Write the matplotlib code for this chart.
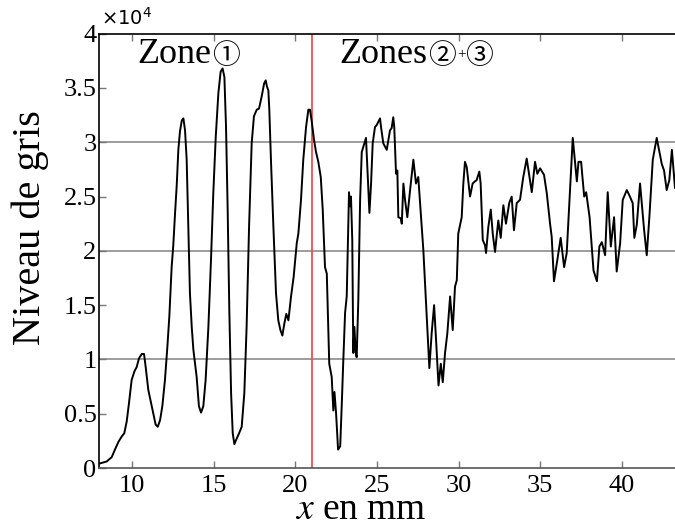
import numpy as np
import matplotlib
matplotlib.use("Agg")
import matplotlib.pyplot as plt
from matplotlib.ticker import FuncFormatter, MultipleLocator

plt.rcParams["font.family"] = ["Liberation Serif", "Noto Sans CJK JP", "DejaVu Sans"]

# position along the sample (mm) and grey level (units of 1e4)
x_mm = [
    7.98, 8.45, 8.76, 8.96, 9.17, 9.37, 9.53, 9.68, 9.82, 9.98, 10.15, 10.29,
    10.43, 10.6, 10.74, 10.84, 11.0, 11.17, 11.31, 11.45, 11.58, 11.72, 11.86,
    12.02, 12.17, 12.29, 12.43, 12.53, 12.64, 12.74, 12.84, 12.94, 13.05, 13.15,
    13.25, 13.35, 13.45, 13.55, 13.66, 13.76, 13.96, 14.1, 14.23, 14.37, 14.51,
    14.68, 14.84, 14.98, 15.13, 15.29, 15.43, 15.55, 15.66, 15.76, 15.86, 15.96,
    16.07, 16.17, 16.27, 16.41, 16.56, 16.72, 16.88, 17.02, 17.17, 17.33, 17.47,
    17.64, 17.78, 17.94, 18.09, 18.19, 18.27, 18.35, 18.41, 18.51, 18.66, 18.82,
    18.96, 19.09, 19.21, 19.33, 19.45, 19.58, 19.74, 19.9, 20.09, 20.19, 20.35,
    20.49, 20.66, 20.8, 20.9, 21.0, 21.15, 21.27, 21.41, 21.56, 21.68, 21.82,
    21.93, 22.08, 22.23, 22.33, 22.4, 22.5, 22.62, 22.75, 22.85, 22.94, 23.05,
    23.15, 23.29, 23.35, 23.41, 23.49, 23.55, 23.62, 23.7, 23.76, 23.86, 23.97,
    24.07, 24.17, 24.33, 24.41, 24.54, 24.64, 24.74, 24.88, 24.99, 25.19, 25.25,
    25.39, 25.6, 25.8, 25.9, 26.0, 26.06, 26.17, 26.25, 26.31, 26.46, 26.52,
    26.62, 26.72, 26.86, 27.03, 27.23, 27.39, 27.53, 27.7, 27.84, 28.05, 28.21,
    28.35, 28.5, 28.62, 28.77, 28.91, 29.03, 29.17, 29.31, 29.48, 29.64, 29.78,
    29.89, 29.98, 30.19, 30.29, 30.39, 30.5, 30.7, 30.86, 31.0, 31.1, 31.27,
    31.35, 31.48, 31.62, 31.68, 31.82, 31.97, 32.09, 32.23, 32.43, 32.58, 32.74,
    32.9, 33.1, 33.25, 33.39, 33.56, 33.76, 33.96, 34.17, 34.48, 34.68, 34.82,
    34.99, 35.23, 35.4, 35.6, 35.7, 35.84, 36.05, 36.25, 36.46, 36.62, 36.79,
    36.99, 37.24, 37.34, 37.5, 37.69, 37.81, 38.02, 38.26, 38.47, 38.62, 38.77,
    38.97, 39.13, 39.32, 39.52, 39.68, 39.89, 40.05, 40.3, 40.46, 40.66, 40.76,
    40.91, 41.11, 41.36, 41.52, 41.68, 41.89, 42.13, 42.44, 42.58, 42.74, 42.9,
    43.06, 43.25,
]
niveau_1e4 = [
    0.04, 0.06, 0.10, 0.17, 0.24, 0.29, 0.32, 0.43, 0.60, 0.81, 0.89, 0.93,
    1.01, 1.05, 1.05, 0.93, 0.72, 0.60, 0.50, 0.40, 0.38, 0.44, 0.57,
    0.81, 1.12, 1.40, 1.85, 2.05, 2.35, 2.60, 2.93, 3.10, 3.20, 3.22,
    3.11, 2.84, 2.22, 1.61, 1.30, 1.09, 0.84, 0.57, 0.51, 0.57, 0.81,
    1.30, 1.92, 2.53, 3.05, 3.45, 3.65, 3.68, 3.60, 3.14, 2.38, 1.46,
    0.69, 0.32, 0.22, 0.27, 0.32, 0.38, 0.69, 1.30, 2.22, 2.99, 3.24,
    3.30, 3.31, 3.42, 3.54, 3.57, 3.51, 3.48, 3.30, 2.84, 2.22, 1.61,
    1.36, 1.27, 1.22, 1.33, 1.42, 1.36, 1.58, 1.76, 2.07, 2.16, 2.47,
    2.84, 3.14, 3.30, 3.30, 3.20, 3.02, 2.91, 2.82, 2.68, 2.38, 1.85,
    1.79, 0.96, 0.84, 0.53, 0.70, 0.50, 0.17, 0.20, 0.60, 0.99, 1.43,
    1.58, 2.54, 2.41, 2.50, 2.10, 1.06, 1.30, 1.06, 1.02, 1.55, 2.47,
    2.91, 2.96, 3.04, 2.77, 2.35, 2.62, 2.99, 3.14, 3.16, 3.22, 3.14,
    2.99, 2.93, 3.11, 3.13, 3.23, 3.14, 2.71, 2.74, 2.31, 2.30, 2.25,
    2.62, 2.47, 2.31, 2.56, 2.84, 2.62, 2.68, 2.31, 2.01, 1.39, 0.92,
    1.24, 1.50, 1.18, 0.76, 0.96, 0.79, 1.06, 1.24, 1.58, 1.27, 1.67,
    1.73, 2.16, 2.31, 2.62, 2.82, 2.77, 2.50, 2.62, 2.64, 2.65, 2.73,
    2.62, 2.10, 2.05, 1.98, 2.22, 2.38, 2.16, 1.99, 2.28, 2.12, 2.42,
    2.25, 2.44, 2.50, 2.19, 2.44, 2.47, 2.68, 2.85, 2.54, 2.82, 2.71,
    2.76, 2.70, 2.53, 2.25, 2.13, 1.72, 1.92, 2.12, 1.85, 1.98, 2.47,
    3.04, 2.64, 2.82, 2.82, 2.50, 2.54, 2.31, 1.82, 1.72, 2.04, 2.08,
    1.96, 2.54, 2.04, 2.31, 1.81, 2.07, 2.47, 2.56, 2.51, 2.44, 2.12,
    2.24, 2.62, 2.19, 1.96, 2.31, 2.84, 3.04, 2.80, 2.74, 2.56, 2.65,
    2.93, 2.58,
]
x_ticks = [10, 15, 20, 25, 30, 35, 40]
grid_levels = [1e4, 2e4, 3e4]
zone_border = 21

niveau = np.array(niveau_1e4) * 1e4

W, H = 675, 528
fig = plt.figure(figsize=(W / 100, H / 100), dpi=100)
ax = fig.add_axes([0.1471, 0.1136, 0.8529, 0.8226])

for g in grid_levels:
    ax.axhline(g, color="#8c8c8c", lw=1.2, zorder=1)
ax.axvline(zone_border, color="#ec5050", lw=1.3, zorder=2)
ax.plot(x_mm, niveau, color="black", lw=1.4, zorder=3)

ax.set_xlim(8, 43.25)
ax.set_ylim(0, 4e4)
ax.set_xticks(x_ticks)
ax.yaxis.set_major_locator(MultipleLocator(5000))
ax.yaxis.set_major_formatter(FuncFormatter(lambda v, p: f"{v / 1e4:g}"))

ax.spines["right"].set_visible(False)
ax.spines["top"].set_color("black")
ax.spines["left"].set_color("black")
ax.spines["bottom"].set_color("#555555")
for s in ax.spines.values():
    s.set_linewidth(1.2)
ax.tick_params(direction="in", length=5, width=1, color="#777777",
               top=True, right=False, labelsize=19)
ax.tick_params(axis="y", pad=2)
ax.tick_params(axis="x", pad=5)

fig.text(101 / W, 1 - 25 / H, r"$\times10^{4}$", fontsize=14,
         math_fontfamily="dejavusans", ha="left", va="baseline")

# zone labels: word, then circled digits placed right after it
renderer = fig.canvas.get_renderer()


def word_then(x_px, base_px, word, digits):
    t = fig.text(x_px / W, 1 - base_px / H, word, fontsize=26,
                 ha="left", va="baseline")
    x_end = t.get_window_extent(renderer).x1
    for d in digits:
        if d == "+":
            fig.text((x_end + 2) / W, 1 - 55 / H, "+", fontsize=11,
                     ha="left", va="center")
            x_end += 8
            continue
        c = fig.text((x_end + 1) / W, 1 - (base_px + 1) / H, d, fontsize=20,
                     ha="left", va="baseline", family=["Noto Sans CJK JP"])
        x_end = c.get_window_extent(renderer).x1


word_then(137, 63, "Zone", ["\u2460"])
word_then(339, 63, "Zones", ["\u2461", "+", "\u2462"])

fig.text(30 / W, 1 - 228 / H, "Niveau de gris", fontsize=29, rotation=90,
         ha="center", va="center")
fig.text(361 / W, 0.001, "$x$ en mm", fontsize=27, math_fontfamily="stix",
         ha="center", va="bottom")

fig.savefig("out.png", dpi=100)
